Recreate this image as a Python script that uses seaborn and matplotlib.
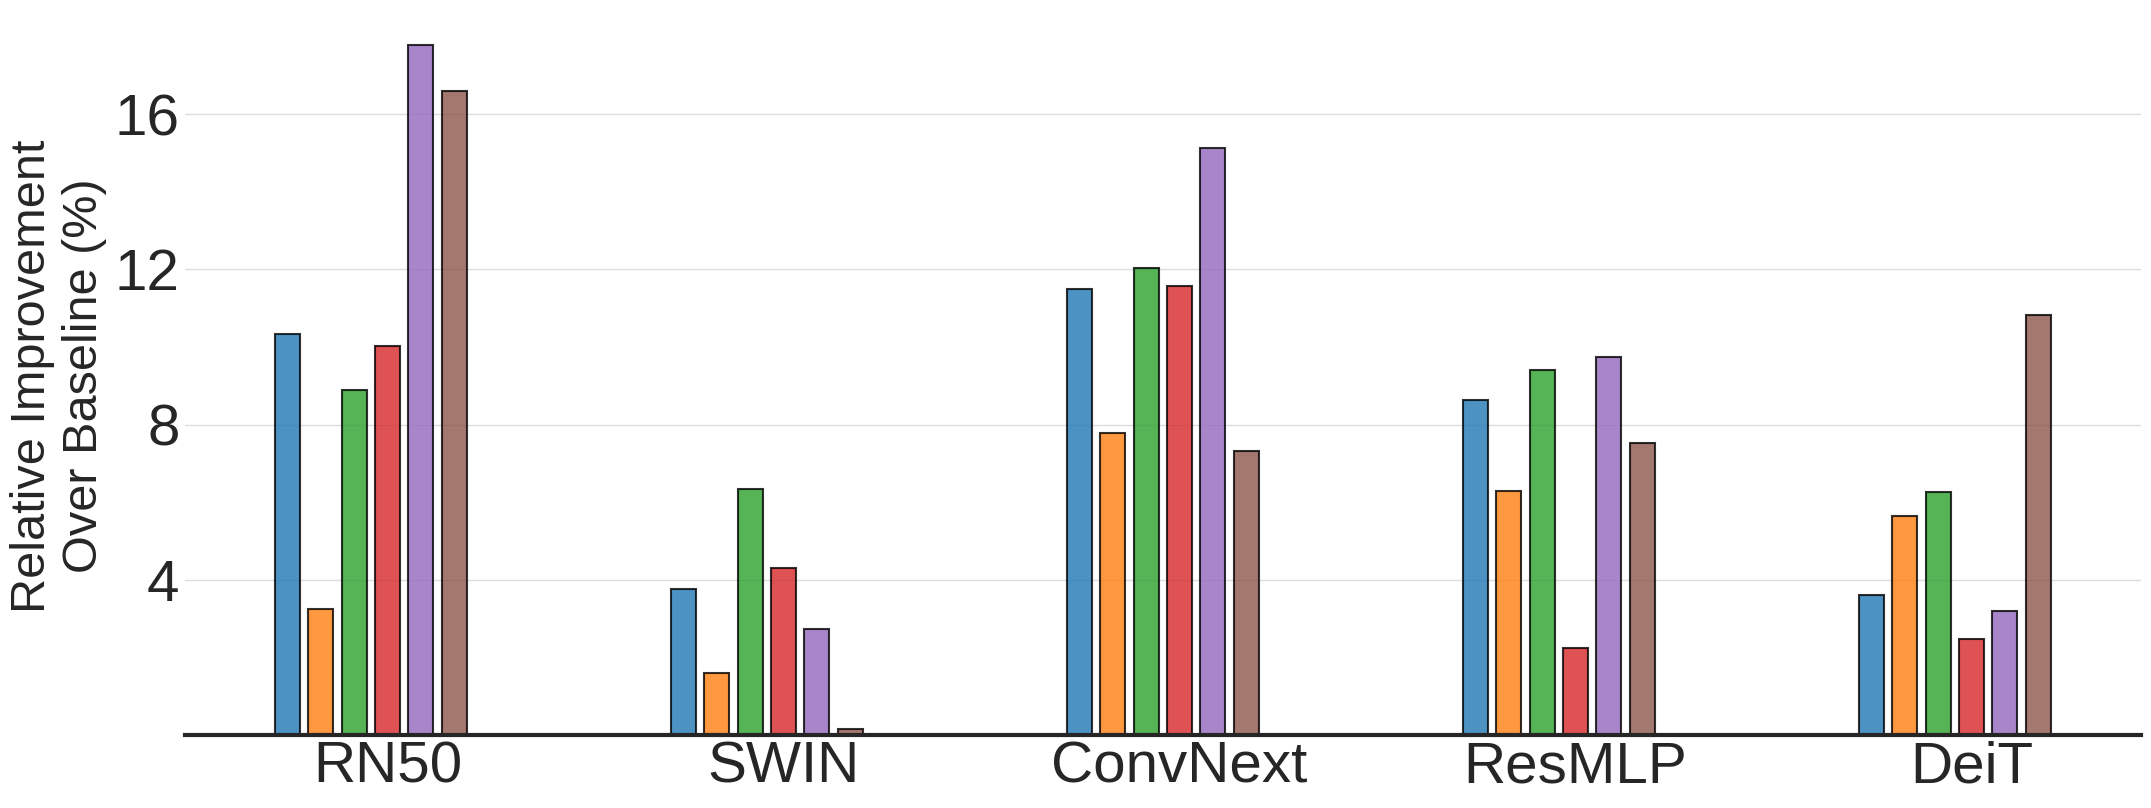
import numpy as np
import pandas as pd
import seaborn as sns
from matplotlib import pyplot as plt

models = ["RN50", "SWIN", "ConvNext", "ResMLP", "DeiT"]
variants = ["V1", "V2", "V3", "V4", "V5", "V6"]

# relative improvement (%) per model, one list per variant
v1 = [10.33, 3.76, 11.49, 8.63, 3.60]
v2 = [3.24, 1.59, 7.78, 6.28, 5.65]
v3 = [8.88, 6.33, 12.03, 9.40, 6.25]
v4 = [10.03, 4.30, 11.57, 2.23, 2.47]
v5 = [17.78, 2.72, 15.13, 9.73, 3.19]
v6 = [16.59, 0.15, 7.32, 7.52, 10.82]

rows = []
for name, vals in zip(variants, [v1, v2, v3, v4, v5, v6]):
    for m, v in zip(models, vals):
        rows.append({"model": m, "variant": name, "value": v})
df = pd.DataFrame(rows)

sns.set_style("whitegrid")
plt.rcParams['font.family'] = ['Liberation Sans', 'DejaVu Sans']

fig = plt.figure(figsize=(21.51, 8.08), dpi=100)
ax = fig.add_axes([0.086, 0.0903, 0.9093, 0.8887])

sns.barplot(data=df, x="model", y="value", hue="variant", order=models,
            hue_order=variants, palette="tab10", saturation=1,
            width=0.505, gap=0.25, errorbar=None, alpha=0.8,
            edgecolor="black", linewidth=1.5, legend=False, ax=ax)

ax.set_xlim(-0.469, 4.47)
ax.set_ylim(0, 18.5)
ax.set_yticks([4, 8, 12, 16])
ax.set_xticks(np.arange(len(models)) + 0.042, labels=models)
ax.tick_params(axis='both', labelsize=42, colors='#262626', length=0)
ax.tick_params(axis='x', pad=4)
ax.tick_params(axis='y', pad=4)

ax.set_xlabel("")
ax.set_ylabel("Relative Improvement\nOver Baseline (%)", fontsize=35,
              color='#262626', labelpad=5)

ax.grid(axis='x', visible=False)
ax.grid(axis='y', color='#dddddd', linewidth=1)
for s in ['left', 'right', 'top']:
    ax.spines[s].set_visible(False)
ax.spines['bottom'].set_color('#262626')
ax.spines['bottom'].set_linewidth(3)

plt.savefig('out.png', dpi=100)
